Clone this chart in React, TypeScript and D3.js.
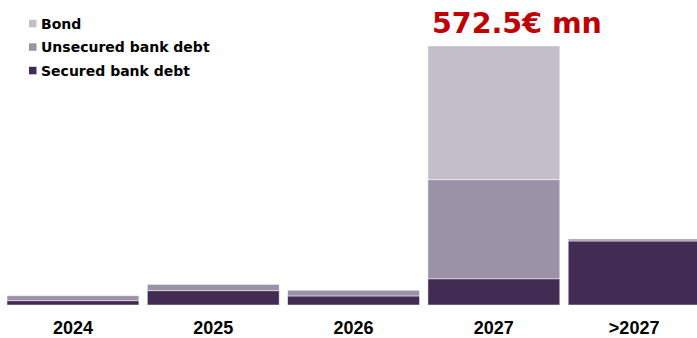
import React from 'react';
import * as d3 from 'd3';

const categories = ['2024', '2025', '2026', '2027', '>2027'];
const securedBankDebt = [9.5, 31.6, 20, 58, 141.5];
const unsecuredBankDebt = [11, 14, 12.6, 219, 4.4];
const bond = [0, 0, 0, 295.5, 0];
const seriesNames = ['Secured bank debt', 'Unsecured bank debt', 'Bond'];
const seriesColors = ['#432c54', '#9b92a7', '#c4bdca'];
const totalLabel = '572.5€ mn';

const W = 697;
const H = 338;

export default function App() {
  const rows = categories.map((c, i) => ({
    cat: c,
    'Secured bank debt': securedBankDebt[i],
    'Unsecured bank debt': unsecuredBankDebt[i],
    Bond: bond[i],
  }));
  const stacked = d3.stack<any>().keys(seriesNames)(rows);
  const maxTotal = d3.max(rows, (r) => r['Secured bank debt'] + r['Unsecured bank debt'] + r.Bond) as number;

  const x = d3.scaleBand().domain(categories).range([2.8, 704.3]).paddingInner(0.06).paddingOuter(0.03);
  const y = d3.scaleLinear().domain([0, maxTotal]).range([305, 46]);

  const font = '"DejaVu Sans", Verdana, sans-serif';
  const axisFont = '"Liberation Sans", Arial, sans-serif';
  const legendOrder = [2, 1, 0];
  const legendY = [23.5, 47, 70.5];

  return (
    <svg width={W} height={H} style={{ position: 'absolute', left: 0, top: 0, background: '#fff' }}>
      {stacked.map((s, si) => (
        <g key={s.key} fill={seriesColors[si]}>
          {s.map((d, i) => {
            const h = y(d[0]) - y(d[1]);
            if (h <= 0) return null;
            return (
              <rect
                key={i}
                x={x(categories[i])}
                y={y(d[1])}
                width={x.bandwidth()}
                height={h}
                stroke="#ffffff"
                strokeWidth={0.8}
                strokeOpacity={0.6}
              />
            );
          })}
        </g>
      ))}
      {categories.map((c) => (
        <text
          key={c}
          x={(x(c) as number) + x.bandwidth() / 2}
          y={334}
          textAnchor="middle"
          fontFamily={axisFont}
          fontWeight="bold"
          fontSize={18}
          fill="#000"
        >
          {c}
        </text>
      ))}
      {legendOrder.map((si, k) => (
        <g key={seriesNames[si]}>
          <rect x={29} y={legendY[k] - 3.7} width={7.5} height={7.5} fill={seriesColors[si]} />
          <text
            x={41}
            y={legendY[k] + 5}
            fontFamily={font}
            fontWeight="bold"
            fontSize={14}
            fill="#000"
          >
            {seriesNames[si]}
          </text>
        </g>
      ))}
      <text x={432} y={33.3} fontFamily={font} fontWeight="bold" fontSize={28.5} fill="#c00000">
        {totalLabel}
      </text>
    </svg>
  );
}
